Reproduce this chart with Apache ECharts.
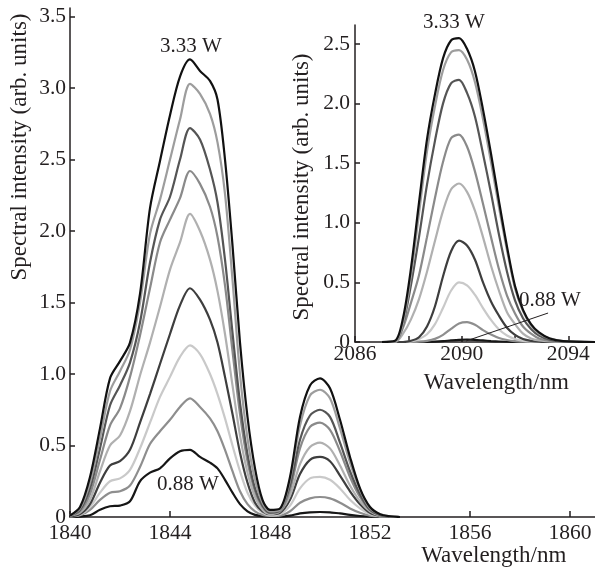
<!DOCTYPE html>
<html><head><meta charset="utf-8">
<script src="https://cdn.jsdelivr.net/npm/echarts@6/dist/echarts.min.js"></script>
<style>html,body{margin:0;padding:0;background:#fff}#c{width:595px;height:572px}</style>
</head><body><div id="c"></div>
<script>
// ---------- DATA ----------
const mainX = [1840.0, 1840.4, 1840.8, 1841.2, 1841.6, 1842.0, 1842.4, 1842.8, 1843.2, 1843.6, 1844.0, 1844.4, 1844.8, 1845.2, 1845.6, 1845.9, 1846.2, 1846.5, 1846.8, 1847.1, 1847.4, 1847.7, 1848.0, 1848.4, 1848.8, 1849.2, 1849.6, 1850.0, 1850.4, 1850.8, 1851.2, 1851.6, 1852.0, 1852.4, 1852.8, 1853.2];
const main088 = [0, 0.003, 0.012, 0.05, 0.075, 0.08, 0.11, 0.25, 0.31, 0.34, 0.41, 0.46, 0.47, 0.42, 0.38, 0.34, 0.26, 0.17, 0.09, 0.04, 0.015, 0.006, 0.003, 0.003, 0.01, 0.025, 0.033, 0.035, 0.033, 0.025, 0.015, 0.007, 0.003, 0.001, 0, 0];
const mainP2 = [0.003, 0.012, 0.05, 0.12, 0.17, 0.18, 0.22, 0.35, 0.51, 0.60, 0.68, 0.77, 0.83, 0.77, 0.69, 0.60, 0.47, 0.32, 0.18, 0.09, 0.04, 0.015, 0.008, 0.01, 0.04, 0.10, 0.13, 0.14, 0.13, 0.10, 0.06, 0.03, 0.01, 0.003, 0, 0];
const mainP3 = [0.005, 0.015, 0.07, 0.17, 0.25, 0.27, 0.33, 0.48, 0.66, 0.84, 0.98, 1.12, 1.20, 1.14, 1.00, 0.86, 0.69, 0.50, 0.32, 0.17, 0.08, 0.03, 0.012, 0.02, 0.08, 0.20, 0.27, 0.28, 0.26, 0.20, 0.12, 0.06, 0.02, 0.006, 0.001, 0];
const mainP4 = [0.005, 0.02, 0.09, 0.24, 0.36, 0.39, 0.47, 0.66, 0.86, 1.07, 1.28, 1.48, 1.60, 1.52, 1.38, 1.22, 0.98, 0.72, 0.45, 0.24, 0.10, 0.04, 0.02, 0.03, 0.12, 0.30, 0.40, 0.42, 0.39, 0.29, 0.18, 0.09, 0.03, 0.008, 0.002, 0];
const mainP5 = [0.01, 0.03, 0.12, 0.32, 0.50, 0.57, 0.74, 0.99, 1.22, 1.47, 1.73, 1.92, 2.12, 2.00, 1.80, 1.58, 1.28, 0.92, 0.57, 0.31, 0.14, 0.05, 0.02, 0.04, 0.15, 0.37, 0.49, 0.52, 0.48, 0.36, 0.22, 0.11, 0.04, 0.01, 0.003, 0];
const mainP6 = [0.01, 0.04, 0.16, 0.40, 0.64, 0.76, 0.98, 1.27, 1.60, 1.92, 2.08, 2.23, 2.42, 2.33, 2.17, 1.96, 1.62, 1.16, 0.72, 0.39, 0.18, 0.07, 0.03, 0.04, 0.19, 0.48, 0.63, 0.66, 0.61, 0.46, 0.28, 0.14, 0.05, 0.013, 0.003, 0];
const mainP7 = [0.01, 0.05, 0.20, 0.48, 0.78, 0.92, 1.08, 1.36, 1.78, 2.08, 2.24, 2.50, 2.72, 2.64, 2.43, 2.20, 1.80, 1.29, 0.80, 0.44, 0.20, 0.08, 0.03, 0.05, 0.22, 0.54, 0.71, 0.75, 0.70, 0.52, 0.32, 0.16, 0.05, 0.015, 0.004, 0];
const mainP8 = [0.01, 0.06, 0.24, 0.55, 0.88, 1.02, 1.17, 1.50, 1.98, 2.22, 2.50, 2.78, 3.03, 2.96, 2.82, 2.62, 2.26, 1.66, 1.00, 0.55, 0.26, 0.10, 0.04, 0.05, 0.26, 0.64, 0.85, 0.89, 0.83, 0.62, 0.38, 0.19, 0.06, 0.02, 0.004, 0];
const main333 = [0.01, 0.07, 0.28, 0.62, 0.97, 1.09, 1.22, 1.56, 2.16, 2.49, 2.81, 3.08, 3.20, 3.12, 3.05, 2.92, 2.50, 1.90, 1.22, 0.70, 0.34, 0.12, 0.05, 0.06, 0.28, 0.70, 0.92, 0.97, 0.90, 0.68, 0.42, 0.20, 0.07, 0.02, 0.005, 0];

const insetX = [2087.0, 2087.5, 2087.8, 2088.1, 2088.4, 2088.7, 2089.0, 2089.3, 2089.6, 2089.9, 2090.2, 2090.5, 2090.8, 2091.1, 2091.4, 2091.7, 2092.0, 2092.3, 2092.6, 2092.9, 2093.3, 2093.8, 2095.0];
const inset088 = [0, 0, 0, 0, 0, 0.001, 0.003, 0.007, 0.013, 0.018, 0.02, 0.018, 0.013, 0.008, 0.004, 0.002, 0.001, 0, 0, 0, 0, 0, 0];
const insetP2 = [0, 0, 0, 0, 0.003, 0.01, 0.026, 0.06, 0.11, 0.156, 0.167, 0.145, 0.10, 0.063, 0.034, 0.017, 0.007, 0.003, 0, 0, 0, 0, 0];
const insetP3 = [0, 0, 0, 0.005, 0.025, 0.065, 0.15, 0.285, 0.43, 0.50, 0.475, 0.395, 0.285, 0.185, 0.105, 0.055, 0.025, 0.01, 0.005, 0, 0, 0, 0];
const insetP4 = [0, 0, 0, 0.01, 0.04, 0.13, 0.30, 0.55, 0.76, 0.85, 0.81, 0.69, 0.50, 0.34, 0.22, 0.12, 0.06, 0.025, 0.01, 0.003, 0, 0, 0];
const insetP5 = [0, 0, 0.07, 0.19, 0.36, 0.59, 0.85, 1.10, 1.28, 1.33, 1.26, 1.10, 0.88, 0.64, 0.43, 0.25, 0.15, 0.07, 0.03, 0.013, 0.004, 0, 0];
const insetP6 = [0, 0, 0.12, 0.33, 0.56, 0.88, 1.21, 1.51, 1.71, 1.74, 1.64, 1.43, 1.16, 0.88, 0.61, 0.39, 0.24, 0.13, 0.07, 0.03, 0.01, 0.002, 0];
const insetP7 = [0, 0.004, 0.15, 0.48, 0.88, 1.32, 1.69, 2.00, 2.17, 2.20, 2.09, 1.89, 1.58, 1.25, 0.90, 0.59, 0.35, 0.20, 0.11, 0.055, 0.02, 0.004, 0];
const insetP8 = [0, 0.003, 0.16, 0.56, 1.08, 1.60, 1.98, 2.28, 2.43, 2.45, 2.37, 2.18, 1.87, 1.51, 1.13, 0.77, 0.45, 0.26, 0.14, 0.07, 0.03, 0.007, 0];
const inset333 = [0, 0.01, 0.20, 0.62, 1.17, 1.70, 2.08, 2.38, 2.53, 2.55, 2.46, 2.27, 1.95, 1.58, 1.18, 0.80, 0.47, 0.27, 0.15, 0.08, 0.03, 0.008, 0];

const mainXTicks = [1840, 1844, 1848, 1852, 1856, 1860];
const mainYTicks = [0, 0.5, 1.0, 1.5, 2.0, 2.5, 3.0, 3.5];
const insetXTicks = [2086, 2088, 2090, 2092, 2094];
const insetXLabels = [2086, 2090, 2094];
const insetYTicks = [0, 0.5, 1.0, 1.5, 2.0, 2.5];

const mainSeries = [main088, mainP2, mainP3, mainP4, mainP5, mainP6, mainP7, mainP8, main333];
const insetSeries = [inset088, insetP2, insetP3, insetP4, insetP5, insetP6, insetP7, insetP8, inset333];
const colors = ['#161616', '#8e8e8e', '#c9c9c9', '#3e3e3e', '#b0b0b0', '#8a8a8a', '#555555', '#9d9d9d', '#111111'];

// ---------- CHART ----------
const FONT = '"Liberation Serif", "Times New Roman", serif';
const TXT = '#231f20';
const chart = echarts.init(document.getElementById('c'));

const series = [];
mainSeries.forEach((ys, i) => series.push({
  type: 'line', xAxisIndex: 0, yAxisIndex: 0, smooth: 0.3, showSymbol: false, symbol: 'none',
  data: mainX.map((x, k) => [x, ys[k]]), lineStyle: { color: colors[i], width: 2.2 }, z: 2 + i, silent: true
}));
insetSeries.forEach((ys, i) => series.push({
  type: 'line', xAxisIndex: 1, yAxisIndex: 1, smooth: 0.3, showSymbol: false, symbol: 'none',
  data: insetX.map((x, k) => [x, ys[k]]), lineStyle: { color: colors[i], width: 2.2 }, z: 2 + i, silent: true
}));

const axLine = { show: true, onZero: false, lineStyle: { color: TXT, width: 1.5 } };
const lbl = (vals, extra) => Object.assign({ customValues: vals, fontFamily: FONT, fontSize: 21.5, color: TXT }, extra);
const yFmt = v => (v === 0 ? '0' : v.toFixed(1));
const xFmt = v => String(v);

chart.setOption({
  animation: false,
  backgroundColor: '#fff',
  grid: [
    { left: 70, right: 0, top: 8, bottom: 55 },
    { left: 355, right: 0, top: 25, bottom: 230 }
  ],
  xAxis: [
    { type: 'value', gridIndex: 0, min: 1840, max: 1861, axisLine: axLine,
      axisTick: { inside: true, length: 6, customValues: mainXTicks, lineStyle: { color: TXT, width: 1.5 } },
      axisLabel: lbl(mainXTicks, { margin: 5, formatter: xFmt }), splitLine: { show: false } },
    { type: 'value', gridIndex: 1, min: 2086, max: 2095, axisLine: axLine,
      axisTick: { inside: true, length: 6, customValues: insetXTicks, lineStyle: { color: TXT, width: 1.5 } },
      axisLabel: lbl(insetXLabels, { margin: 1, formatter: xFmt }), splitLine: { show: false } }
  ],
  yAxis: [
    { type: 'value', gridIndex: 0, min: 0, max: 3.56, axisLine: axLine,
      axisTick: { inside: true, length: 5, customValues: mainYTicks, lineStyle: { color: TXT, width: 1.5 } },
      axisLabel: lbl(mainYTicks, { margin: 4, formatter: yFmt }), splitLine: { show: false } },
    { type: 'value', gridIndex: 1, min: 0, max: 2.66, axisLine: axLine,
      axisTick: { inside: true, length: 5, customValues: insetYTicks, lineStyle: { color: TXT, width: 1.5 } },
      axisLabel: lbl(insetYTicks, { margin: 5, formatter: yFmt }), splitLine: { show: false } }
  ],
  series: series
});

// annotations placed from data coordinates
const p = (g, xy) => chart.convertToPixel({ gridIndex: g }, xy);
const txt = (pos, s, size, rot) => ({
  type: 'text', x: pos[0], y: pos[1], rotation: rot || 0, silent: true, z: 100,
  style: { text: s, fontFamily: FONT, fontSize: size, fill: TXT, align: 'center', verticalAlign: 'middle' }
});
const a1 = p(0, [1844.84, 3.29]);
const a2 = p(0, [1844.72, 0.23]);
const a3 = p(1, [2089.71, 2.68]);
const a4 = p(1, [2093.31, 0.35]);
const l1 = p(1, [2093.24, 0.243]);
const l2 = p(1, [2090.16, 0.008]);
const mainXName = p(0, [1856.95, -0.27]);
const insetXName = p(1, [2091.3, -0.34]);

chart.setOption({
  graphic: [
    txt(a1, '3.33 W', 21),
    txt(a2, '0.88 W', 21),
    txt(a3, '3.33 W', 21),
    txt(a4, '0.88 W', 21),
    { type: 'line', silent: true, z: 100, shape: { x1: l1[0], y1: l1[1], x2: l2[0], y2: l2[1] }, style: { stroke: TXT, lineWidth: 1 } },
    txt(mainXName, 'Wavelength/nm', 23),
    txt(insetXName, 'Wavelength/nm', 23),
    txt([20, 147], 'Spectral intensity (arb. units)', 23, Math.PI / 2),
    txt([302, 187], 'Spectral intensity (arb. units)', 23, Math.PI / 2)
  ]
});
</script></body></html>
